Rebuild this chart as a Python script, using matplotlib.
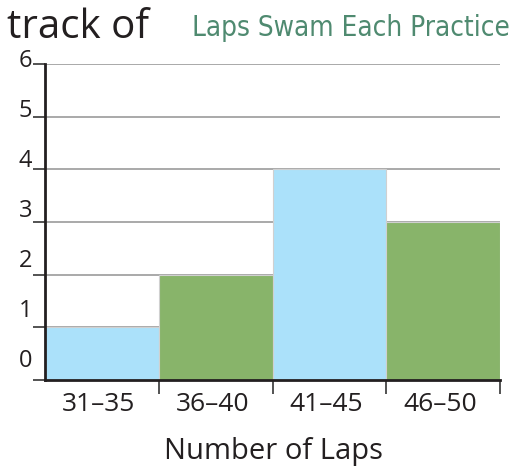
import matplotlib
matplotlib.use("Agg")
import matplotlib.pyplot as plt

categories = ["31–35", "36–40", "41–45", "46–50"]
counts = [1, 2, 4, 3]
y_ticks = [0, 1, 2, 3, 4, 5, 6]
colors = ["#abe1fa", "#88b46a", "#abe1fa", "#88b46a"]

W, H = 528, 472
fig = plt.figure(figsize=(W / 100, H / 100), dpi=100)
ax = fig.add_axes([45 / W, (H - 380) / H, 455 / W, 316 / H])

dark = "#231f20"
grid = "#a3a3a3"

for v in y_ticks[1:]:
    ax.axhline(v, color=grid, lw=1.3, zorder=1)

edges = list(range(len(categories) + 1))
ax.bar(edges[:-1], counts, width=1, align="edge", color=colors,
       edgecolor="#d0d0d0", linewidth=0.8, zorder=2)

ax.set_xlim(0, len(categories))
ax.set_ylim(0, 6)
for s in ["top", "right"]:
    ax.spines[s].set_visible(False)
ax.spines["left"].set_color(dark)
ax.spines["bottom"].set_color(dark)
ax.spines["left"].set_linewidth(2)
ax.spines["bottom"].set_linewidth(2)

ax.set_yticks(y_ticks)
ax.set_yticklabels([])
ax.tick_params(axis="y", length=9, width=1.3, color="#444444", direction="out")
ax.set_xticks(edges[1:])
ax.set_xticklabels([])
ax.tick_params(axis="x", length=10, width=1.3, color="#444444", direction="out")

for v in y_ticks:
    ax.text(-0.11, 0.36 + 0.949 * v, str(v), ha="right", va="center",
            fontsize=17, family="Open Sans", color=dark, zorder=5,
            clip_on=False)

for i, c in enumerate(categories):
    ax.text(i + 0.47, -0.47, c, ha="center", va="center", fontsize=19,
            family="Open Sans", color=dark, clip_on=False)

fig.text(273 / W, 1 - 452 / H, "Number of Laps", ha="center", va="center",
         fontsize=21, family="Open Sans", color=dark)

fig.text(7 / W, 1 - 38 / H, "track of", ha="left", va="baseline",
         fontsize=29, family="Open Sans", color=dark)
fig.text(510 / W, 1 - 36 / H, "Laps Swam Each Practice", ha="right",
         va="baseline", fontsize=20, family="DejaVu Sans",
         fontstretch="condensed", color="#4f8a70")

fig.savefig("out.png", dpi=100)
